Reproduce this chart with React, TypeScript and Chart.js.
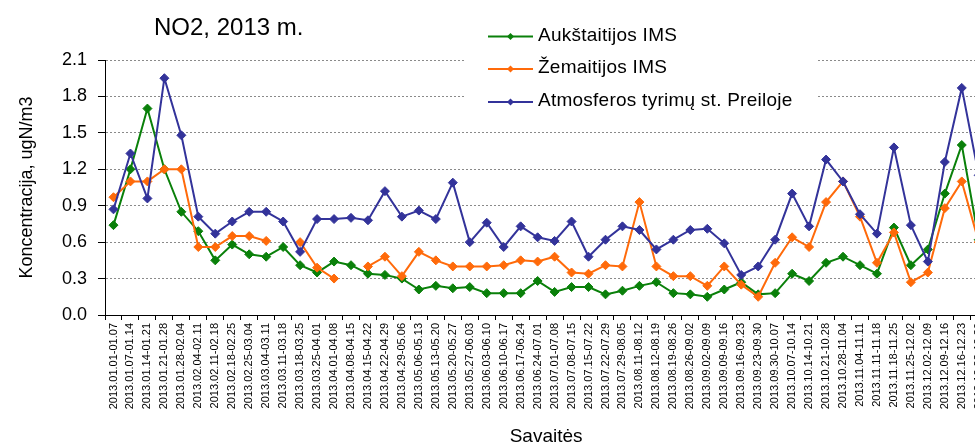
import React, { useEffect, useRef } from 'react';
import { Chart, registerables } from 'chart.js';

Chart.register(...registerables);

const FONT = 'Arial, "Liberation Sans", sans-serif';

const chartTitle = 'NO2, 2013 m.';
const yTitle = 'Koncentracija, ugN/m3';
const xTitle = 'Savaitės';

const weeks = [
  '2013.01.01-01.07', '2013.01.07-01.14', '2013.01.14-01.21', '2013.01.21-01.28',
  '2013.01.28-02.04', '2013.02.04-02.11', '2013.02.11-02.18', '2013.02.18-02.25',
  '2013.02.25-03.04', '2013.03.04-03.11', '2013.03.11-03.18', '2013.03.18-03.25',
  '2013.03.25-04.01', '2013.04.01-04.08', '2013.04.08-04.15', '2013.04.15-04.22',
  '2013.04.22-04.29', '2013.04.29-05.06', '2013.05.06-05.13', '2013.05.13-05.20',
  '2013.05.20-05.27', '2013.05.27-06.03', '2013.06.03-06.10', '2013.06.10-06.17',
  '2013.06.17-06.24', '2013.06.24-07.01', '2013.07.01-07.08', '2013.07.08-07.15',
  '2013.07.15-07.22', '2013.07.22-07.29', '2013.07.29-08.05', '2013.08.11-08.12',
  '2013.08.12-08.19', '2013.08.19-08.26', '2013.08.26-09.02', '2013.09.02-09.09',
  '2013.09.09-09.16', '2013.09.16-09.23', '2013.09.23-09.30', '2013.09.30-10.07',
  '2013.10.07-10.14', '2013.10.14-10.21', '2013.10.21-10.28', '2013.10.28-11.04',
  '2013.11.04-11.11', '2013.11.11-11.18', '2013.11.18-11.25', '2013.11.25-12.02',
  '2013.12.02-12.09', '2013.12.09-12.16', '2013.12.16-12.23', '2013.12.23-12.30',
];

const seriesNames = ['Aukštaitijos IMS', 'Žemaitijos IMS', 'Atmosferos tyrimų st. Preiloje'];
const seriesColors = ['#0a800a', '#ff6a0a', '#33339a'];

const aukstaitija = [
  0.74, 1.2, 1.7, 1.2, 0.85, 0.69, 0.45, 0.58, 0.5, 0.48, 0.56, 0.41, 0.35,
  0.44, 0.41, 0.34, 0.33, 0.3, 0.21, 0.24, 0.22, 0.23, 0.18, 0.18, 0.18, 0.28,
  0.19, 0.23, 0.23, 0.17, 0.2, 0.24, 0.27, 0.18, 0.17, 0.15, 0.21, 0.27, 0.17,
  0.18, 0.34, 0.28, 0.43, 0.48, 0.41, 0.34, 0.72, 0.41, 0.54, 1.0, 1.4, 0.62,
];

const zemaitija = [
  0.97, 1.1, 1.1, 1.2, 1.2, 0.56, 0.56, 0.65, 0.65, 0.61, null, 0.6, 0.39,
  0.3, null, 0.4, 0.48, 0.32, 0.52, 0.45, 0.4, 0.4, 0.4, 0.41, 0.45, 0.44,
  0.48, 0.35, 0.34, 0.41, 0.4, 0.93, 0.4, 0.32, 0.32, 0.24, 0.4, 0.25, 0.15,
  0.43, 0.64, 0.56, 0.93, 1.1, 0.81, 0.43, 0.68, 0.27, 0.35, 0.88, 1.1, 0.6,
];

const preila = [
  0.87, 1.33, 0.96, 1.95, 1.48, 0.81, 0.67, 0.77, 0.85, 0.85, 0.77, 0.52, 0.79,
  0.79, 0.8, 0.78, 1.02, 0.81, 0.86, 0.79, 1.09, 0.6, 0.76, 0.56, 0.73, 0.64,
  0.61, 0.77, 0.48, 0.62, 0.73, 0.7, 0.54, 0.62, 0.7, 0.71, 0.59, 0.33, 0.4,
  0.62, 1.0, 0.73, 1.28, 1.1, 0.83, 0.67, 1.38, 0.74, 0.44, 1.26, 1.87, 1.15,
];

const seriesData = [aukstaitija, zemaitija, preila];

const legendRowsY = [36.5, 69, 102];

const overlayPlugin = {
  id: 'overlay',
  afterDraw(chart: any) {
    const ctx = chart.ctx as CanvasRenderingContext2D;
    ctx.save();
    // legend box
    ctx.fillStyle = '#ffffff';
    ctx.fillRect(466, 12, 351, 106);
    // title
    ctx.fillStyle = '#000';
    ctx.font = `24px ${FONT}`;
    ctx.textAlign = 'left';
    ctx.textBaseline = 'alphabetic';
    ctx.fillText(chartTitle, 154, 35);
    // legend entries
    seriesNames.forEach((name, i) => {
      const y = legendRowsY[i];
      ctx.strokeStyle = seriesColors[i];
      ctx.lineWidth = 2;
      ctx.beginPath();
      ctx.moveTo(488, y);
      ctx.lineTo(533, y);
      ctx.stroke();
      ctx.fillStyle = seriesColors[i];
      ctx.beginPath();
      ctx.moveTo(510.5, y - 3.5);
      ctx.lineTo(514, y);
      ctx.lineTo(510.5, y + 3.5);
      ctx.lineTo(507, y);
      ctx.closePath();
      ctx.fill();
      ctx.fillStyle = '#000';
      ctx.font = `19px ${FONT}`;
      (ctx as any).letterSpacing = '0.25px';
      ctx.textBaseline = 'middle';
      ctx.fillText(name, 538, y - 1);
      (ctx as any).letterSpacing = '0px';
    });
    ctx.restore();
  },
};

export default function App() {
  const canvasRef = useRef<HTMLCanvasElement | null>(null);

  useEffect(() => {
    const canvas = canvasRef.current;
    if (!canvas) return;
    const chart = new Chart(canvas, {
      type: 'line',
      data: {
        labels: weeks,
        datasets: seriesData.map((d, i) => ({
          label: seriesNames[i],
          data: d,
          borderColor: seriesColors[i],
          backgroundColor: seriesColors[i],
          borderWidth: 2,
          pointStyle: 'rectRot',
          pointRadius: 4.5,
          pointBorderWidth: 1,
          pointBackgroundColor: seriesColors[i],
          pointBorderColor: seriesColors[i],
          spanGaps: false,
          tension: 0,
          order: 2 - i,
        })),
      },
      options: {
        responsive: false,
        animation: false,
        devicePixelRatio: 1,
        layout: { padding: { top: 60, right: 0, bottom: 0, left: 0 } },
        plugins: {
          legend: { display: false },
          tooltip: { enabled: false },
          title: { display: false },
        },
        scales: {
          x: {
            type: 'category',
            offset: true,
            grid: {
              display: true,
              offset: true,
              drawOnChartArea: false,
              drawTicks: true,
              tickLength: 5,
              color: '#000',
              tickColor: '#000',
            },
            border: { display: true, color: '#000', width: 1 },
            ticks: {
              autoSkip: false,
              maxRotation: 90,
              minRotation: 90,
              padding: 3,
              color: '#000',
              font: { family: FONT, size: 11 },
            },
            title: {
              display: true,
              text: xTitle,
              color: '#000',
              font: { family: FONT, size: 19 },
              padding: { top: 0, bottom: 0 },
            },
            afterFit: (s: any) => {
              s.height = 133;
            },
          },
          y: {
            min: 0,
            max: 2.1,
            ticks: {
              stepSize: 0.3,
              padding: 11,
              color: '#000',
              font: { family: FONT, size: 18 },
              callback: (v: any) => Number(v).toFixed(1),
            },
            grid: {
              color: '#8a8a8a',
              lineWidth: 1,
              drawTicks: true,
              tickLength: 7,
              tickColor: '#000',
              tickBorderDash: [],
            },
            border: { display: true, color: '#000', width: 1, dash: [2, 2] },
            title: {
              display: true,
              text: yTitle,
              color: '#000',
              font: { family: FONT, size: 18 },
              padding: { top: 16, bottom: 0 },
            },
            afterFit: (s: any) => {
              s.width = 105;
            },
          },
        },
      },
      plugins: [overlayPlugin],
    } as any);
    return () => chart.destroy();
  }, []);

  return (
    <div
      style={{
        position: 'fixed',
        left: 0,
        top: 0,
        width: 975,
        height: 448,
        overflow: 'hidden',
        background: '#fff',
      }}
    >
      <canvas ref={canvasRef} width={995} height={448} style={{ display: 'block' }} />
    </div>
  );
}
